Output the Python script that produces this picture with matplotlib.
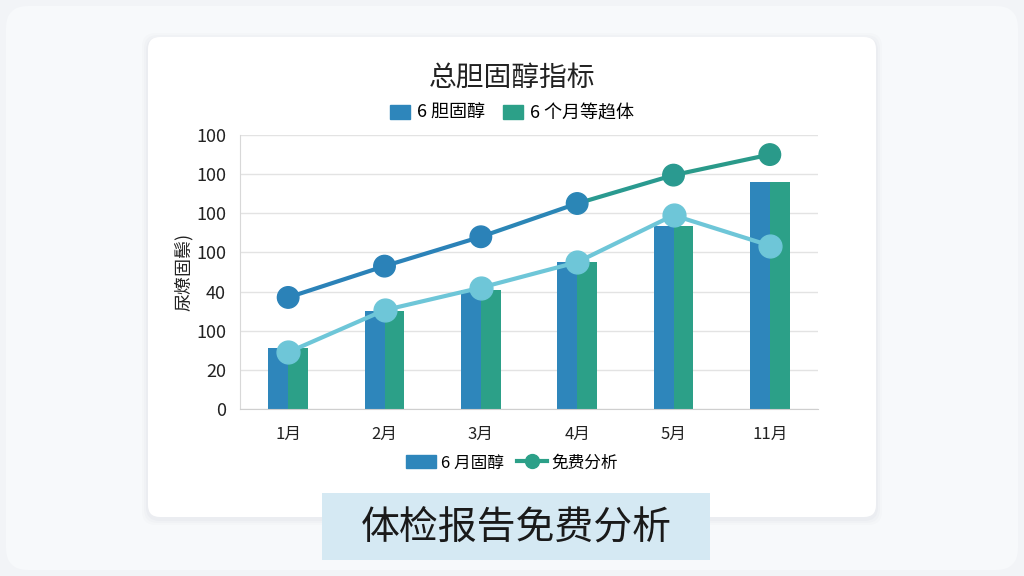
import numpy as np
import matplotlib.pyplot as plt
from matplotlib.patches import FancyBboxPatch, Rectangle
from matplotlib.lines import Line2D

plt.rcParams['font.family'] = ['Noto Sans CJK SC', 'DejaVu Sans']

#==============================
# 数据
#==============================
months = ['1月', '2月', '3月', '4月', '5月', '11月']
bar_vals = [31, 50, 61, 75, 93.5, 116]
line_top = [57, 73, 88, 105, 119.5, 130]
line_low = [29, 50.5, 62, 75, 99, 83.5]
ytick_vals = [0, 20, 40, 60, 80, 100, 120, 140]
ytick_labels = ['0', '20', '100', '40', '100', '100', '100', '100']

blue = '#2e86bb'
green = '#2ca088'
light = '#6ec6d8'
top_colors = ['#2b82b8', '#2b82b8', '#2b82b8', '#2b86b6', '#2a9a90', '#2a9a8a']

#==============================
# 画布与背景
#==============================
fig = plt.figure(figsize=(10.24, 5.76), dpi=100)
fig.patch.set_facecolor('#f2f4f7')
bg = fig.add_axes([0, 0, 1, 1])
bg.set_xlim(0, 1024)
bg.set_ylim(576, 0)
bg.axis('off')
bg.add_patch(FancyBboxPatch((6, 6), 1012, 564, boxstyle='round,pad=0,rounding_size=22',
                            fc='#f7f9fb', ec='none'))
# sombra suave do cartão
for k, a in enumerate([0.05, 0.04, 0.03]):
    d = 2 + 2 * k
    bg.add_patch(FancyBboxPatch((148 - d, 37 - d + 2), 728 + 2 * d, 480 + 2 * d,
                                boxstyle='round,pad=0,rounding_size=14',
                                fc='#9aa3b0', alpha=a, ec='none'))
bg.add_patch(FancyBboxPatch((148, 37), 728, 480, boxstyle='round,pad=0,rounding_size=12',
                            fc='white', ec='none'))
bg.add_patch(Rectangle((322, 493), 388, 67, fc='#d5e9f3', ec='none'))
bg.text(516, 527, '体检报告免费分析', fontsize=28, fontweight='medium', ha='center',
        va='center', color='#1a1a1a')
bg.text(512, 78, '总胆固醇指标', fontsize=20, fontweight='medium', ha='center',
        va='center', color='#222222')

#==============================
# 主图
#==============================
ax = fig.add_axes([240 / 1024, 1 - 409 / 576, 578 / 1024, 274 / 576])
ax.set_facecolor('none')
x = np.arange(len(months))
w = 0.205
ax.bar(x - w / 2, bar_vals, width=w, color=blue, zorder=2)
ax.bar(x + w / 2, bar_vals, width=w, color=green, zorder=2)

ax.plot(x, line_low, color=light, lw=3, zorder=3)
ax.scatter(x, line_low, s=270, color=light, zorder=4)
for i in range(len(x) - 1):
    ax.plot(x[i:i + 2], line_top[i:i + 2], color=top_colors[i + 1], lw=3, zorder=3)
ax.scatter(x, line_top, s=240, color=top_colors, zorder=4)

ax.set_xlim(-0.5, 5.5)
ax.set_ylim(0, 140)
ax.set_yticks(ytick_vals)
ax.set_yticklabels(ytick_labels, fontsize=13, color='#222222')
ax.set_xticks(x)
ax.set_xticklabels(months, fontsize=12, color='#222222')
ax.tick_params(length=0, pad=10)
ax.tick_params(axis='x', pad=12)
ax.grid(axis='y', color='#e3e3e3', lw=1, zorder=0)
for s in ['top', 'right']:
    ax.spines[s].set_visible(False)
ax.spines['left'].set_color('#d8d8d8')
ax.spines['bottom'].set_color('#cfcfcf')
ax.set_ylabel('尿燎固鬃)', fontsize=13, color='#222222', labelpad=2)

#==============================
# 图例
#==============================
h1 = [Rectangle((0, 0), 1, 1, color=blue), Rectangle((0, 0), 1, 1, color=green)]
fig.legend(h1, ['6 胆固醇', '6 个月等趋体'], loc='center', bbox_to_anchor=(0.5, 1 - 113 / 576),
           ncol=2, frameon=False, fontsize=13, handlelength=1.1, handleheight=0.8,
           columnspacing=1.0, handletextpad=0.4)
h2 = [Rectangle((0, 0), 1, 1, color=blue),
      Line2D([0], [0], color=green, lw=3, marker='o', markersize=10)]
fig.legend(h2, ['6 月固醇', '免费分析'], loc='center', bbox_to_anchor=(0.5, 1 - 463 / 576),
           ncol=2, frameon=False, fontsize=12, handlelength=1.8, handleheight=0.8,
           columnspacing=0.8, handletextpad=0.3)

fig.savefig('out.png', dpi=100, facecolor=fig.get_facecolor())
